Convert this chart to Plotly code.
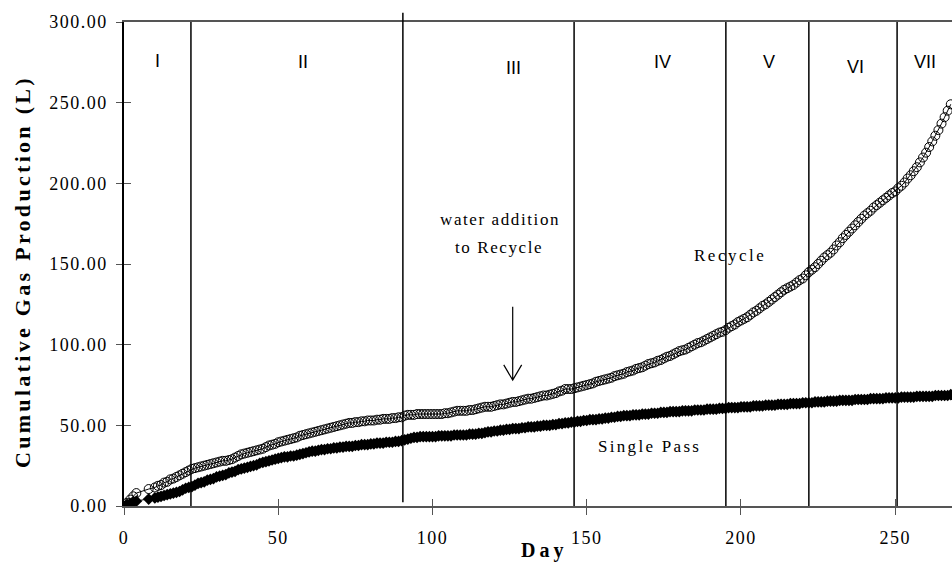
import plotly.graph_objects as go

# ---- data -------------------------------------------------------------
days = [0, 1, 2, 3, 4, 8] + list(range(10, 269))

recycle = [0, 2, 4, 6, 8, 10.5,
    11.5, 12.5, 13, 14.5, 15, 16.5, 17, 18, 19, 20,                     # 10-19
    21, 22, 23, 23.5, 24, 24.5, 25, 25.5, 26, 26.5,                     # 20-29
    27, 27.5, 28, 28, 28.5, 29, 30, 31, 32, 32.5,                       # 30-39
    33, 33.5, 34, 34.5, 35, 35.5, 36.5, 37.5, 38, 38.5,                 # 40-49
    39.5, 40, 40.5, 41, 41.5, 42, 42.5, 43.5, 44, 44.5,                 # 50-59
    45, 45.5, 46, 46.5, 47, 47.5, 48, 48.5, 49, 49.5,                   # 60-69
    50, 50.5, 51, 51.5, 51.5, 52, 52, 52.5, 52.5, 53,                   # 70-79
    53, 53, 53.5, 53.5, 54, 54, 54, 54.5, 54.5, 55,                     # 80-89
    55, 56, 56.5, 56.5, 56.5, 57, 57, 57, 57, 57,                       # 90-99
    57, 57, 57, 57, 57.5, 57.5, 58, 58.5, 59, 59,                       # 100-109
    59, 59, 59.5, 59.5, 60, 60.5, 61, 61.5, 61.5, 61.5,                 # 110-119
    62, 62.5, 63, 63, 63.5, 64, 64.5, 64.5, 65, 65.5,                   # 120-129
    66, 66.5, 66.5, 67, 67.5, 68, 68.5, 68.5, 69, 69.5,                 # 130-139
    70, 71, 71.5, 72.5, 72.5, 72.5, 73, 73.5, 74, 74.5,                 # 140-149
    75, 75.5, 76, 77, 77.5, 78, 78.5, 79, 79.5, 80.5,                   # 150-159
    81, 81.5, 82, 83, 83.5, 84, 85, 85.5, 86, 87,                       # 160-169
    88, 88.5, 89, 90, 90.5, 91.5, 92.5, 93, 94, 95,                     # 170-179
    96, 96.5, 97, 98, 99, 100, 101, 101.5, 102.5, 103.5,                # 180-189
    104.5, 105.5, 106.5, 107.5, 108, 109, 110.5, 111.5, 112.5, 114,     # 190-199
    115, 116, 117, 118.5, 120, 121, 122.5, 124, 125, 126.5,             # 200-209
    128, 129.5, 131, 132.5, 134, 135, 136, 137, 138.5, 140,             # 210-219
    141, 143, 145, 146.5, 148, 150, 152, 154, 155.5, 157,               # 220-229
    159, 161.5, 163.5, 166, 168, 170, 172, 174, 176, 178,               # 230-239
    180, 181.5, 183, 185, 186.5, 188, 189.5, 191, 192.5, 194,           # 240-249
    195, 197, 198.5, 200.5, 203, 205, 207.5, 210, 213, 216,             # 250-259
    219, 222.5, 226, 229.5, 233, 237, 241, 245, 249]                    # 260-268

single_pass = [0, 1, 1.5, 2.5, 3, 4.3,
    5, 5.5, 6, 6.5, 7, 7.5, 8, 8.5, 9, 10,                              # 10-19
    11, 11.5, 12, 13, 14, 14.5, 15, 16, 16.5, 17,                       # 20-29
    18, 18.5, 19, 19.5, 20.5, 21, 21.5, 22.5, 23, 23.5,                 # 30-39
    24, 24.5, 25, 25.5, 26.5, 27, 27.5, 28, 28.5, 29,                   # 40-49
    29.5, 30, 30.5, 30.5, 31, 31, 31.5, 32, 32.5, 33,                   # 50-59
    33.5, 34, 34, 34.5, 35, 35, 35.5, 35.5, 36, 36,                     # 60-69
    36.5, 36.5, 37, 37, 37, 37.5, 37.5, 38, 38, 38,                     # 70-79
    38.5, 38.5, 39, 39, 39, 39.5, 39.5, 39.5, 40, 40,                   # 80-89
    40.5, 41, 41.5, 42, 42.5, 42.5, 43, 43, 43, 43,                     # 90-99
    43, 43, 43.5, 43.5, 43.5, 43.5, 43.5, 44, 44, 44,                   # 100-109
    44, 44, 44.5, 44.5, 44.5, 45, 45, 45.5, 46, 46,                     # 110-119
    46.5, 46.5, 47, 47, 47.5, 47.5, 48, 48, 48, 48.5,                   # 120-129
    48.5, 49, 49, 49, 49.5, 49.5, 50, 50, 50, 50.5,                     # 130-139
    50.5, 51, 51, 51.5, 51.5, 52, 52, 52.5, 52.5, 53,                   # 140-149
    53, 53.5, 53.5, 53.5, 54, 54, 54.5, 54.5, 55, 55,                   # 150-159
    55.5, 55.5, 56, 56, 56, 56.5, 56.5, 56.5, 57, 57,                   # 160-169
    57, 57.5, 57.5, 57.5, 58, 58, 58, 58.5, 58.5, 58.5,                 # 170-179
    58.5, 59, 59, 59, 59, 59.5, 59.5, 59.5, 59.5, 60,                   # 180-189
    60, 60, 60, 60.5, 60.5, 60.5, 61, 61, 61, 61,                       # 190-199
    61.5, 61.5, 61.5, 61.5, 62, 62, 62, 62, 62.5, 62.5,                 # 200-209
    62.5, 62.5, 63, 63, 63, 63, 63.5, 63.5, 63.5, 63.5,                 # 210-219
    64, 64, 64, 64, 64.5, 64.5, 64.5, 64.5, 65, 65,                     # 220-229
    65, 65, 65.5, 65.5, 65.5, 65.5, 65.5, 66, 66, 66,                   # 230-239
    66, 66, 66.5, 66.5, 66.5, 66.5, 66.5, 67, 67, 67,                   # 240-249
    67, 67, 67.5, 67.5, 67.5, 67.5, 67.5, 68, 68, 68,                   # 250-259
    68, 68, 68, 68.5, 68.5, 68.5, 68.5, 68.5, 69]                       # 260-268

assert len(days) == len(recycle) == len(single_pass)

# operating-phase boundaries (day) and phase labels
phase_bounds = [21.7, 90.4, 145.9, 195.1, 222.0, 250.6]
phase_names = ["I", "II", "III", "IV", "V", "VI", "VII"]
phase_label_days = [10.7, 57.9, 126.1, 174.4, 209.1, 237.0, 259.7]
phase_label_y = [276, 275.5, 271.5, 275.5, 275.5, 272, 275.5]

x_ticks = [0, 50, 100, 150, 200, 250]
x_tick_labels = ["0", "50", "100", "150", "200", "250"]
y_ticks = [0, 50, 100, 150, 200, 250, 300]
y_tick_labels = ["0.00", "50.00", "100.00", "150.00", "200.00", "250.00", "300.00"]

water_day = 126.0          # water added to the recycle reactor
water_arrow = (123.5, 78)  # arrow from / to (L)

# ---- styling helpers --------------------------------------------------
SERIF = "Liberation Serif, Times New Roman, serif"
SANS = "Liberation Sans, Arial, sans-serif"


def spaced(text, px):
    return f'<span style="letter-spacing:{px}px">{text}</span>'


fig = go.Figure()

fig.add_trace(go.Scatter(
    x=days, y=single_pass, name="Single Pass", mode="lines+markers",
    line=dict(color="black", width=1),
    marker=dict(symbol="diamond", size=9, color="black"),
))
fig.add_trace(go.Scatter(
    x=days, y=recycle, name="Recycle", mode="lines+markers",
    line=dict(color="black", width=1),
    marker=dict(symbol="circle-open", size=9, color="black",
                line=dict(width=1, color="black")),
))
# empty trace so the overlaid tick-only axes are rendered
fig.add_trace(go.Scatter(x=[], y=[], xaxis="x2", yaxis="y2",
                         showlegend=False, hoverinfo="skip"))

# phase boundary lines
shapes = []
for i, d in enumerate(phase_bounds):
    y0, y1 = (0.008, 1.019) if i == 1 else (0.0, 1.0)
    shapes.append(dict(type="line", xref="x", yref="paper", x0=d, x1=d,
                       y0=y0, y1=y1, line=dict(color="black", width=1.5),
                       layer="above"))

# arrow marking the water addition
wx = water_day
top, tip = water_arrow
shapes.append(dict(
    type="path", xref="x", yref="y",
    path=(f"M {wx},{top} L {wx},{tip} "
          f"M {wx - 2.9},{tip + 9.5} L {wx},{tip} L {wx + 2.9},{tip + 9.5}"),
    line=dict(color="black", width=1.2),
))

annotations = []
for name, d, yv in zip(phase_names, phase_label_days, phase_label_y):
    annotations.append(dict(x=d, y=yv, xref="x", yref="y", text=name,
                            showarrow=False,
                            font=dict(family=SANS, size=18, color="black")))

annotations += [
    dict(x=121.9, y=177.5, xref="x", yref="y", showarrow=False,
         text=spaced("water addition", 1.6),
         font=dict(family=SERIF, size=17, color="black")),
    dict(x=121.7, y=160.0, xref="x", yref="y", showarrow=False,
         text=spaced("to Recycle", 1.6),
         font=dict(family=SERIF, size=17, color="black")),
    dict(x=196.4, y=155.0, xref="x", yref="y", showarrow=False,
         text=spaced("Recycle", 2.5),
         font=dict(family=SERIF, size=17, color="black")),
    dict(x=170.5, y=36.6, xref="x", yref="y", showarrow=False,
         text=spaced("Single Pass", 2.3),
         font=dict(family=SERIF, size=17, color="black")),
    # axis titles
    dict(x=-0.1232, y=0.4855, xref="paper", yref="paper", showarrow=False,
         textangle=-90, xanchor="center", yanchor="middle",
         text=spaced("<b>Cumulative Gas Production (L)</b>", 3.3),
         font=dict(family=SERIF, size=22, color="black")),
    dict(x=0.507, y=-0.092, xref="paper", yref="paper", showarrow=False,
         xanchor="center", yanchor="middle",
         text=spaced("<b>Day</b>", 4),
         font=dict(family=SERIF, size=20, color="black")),
]

tick_font = dict(family=SERIF, size=18, color="black")

fig.update_layout(
    width=952, height=565,
    margin=dict(l=124, r=0, t=22, b=59),
    paper_bgcolor="white", plot_bgcolor="white",
    showlegend=False,
    shapes=shapes,
    annotations=annotations,
    xaxis=dict(
        range=[0, 268.4], tickmode="array", tickvals=x_ticks,
        ticktext=[spaced(t, 1.5) for t in x_tick_labels],
        ticks="outside", ticklen=7, tickwidth=1, tickcolor="#555",
        ticklabelstandoff=7,
        showline=True, linecolor="#555", linewidth=2, mirror=True,
        showgrid=False, zeroline=False, tickfont=tick_font,
    ),
    yaxis=dict(
        range=[0, 300], tickmode="array", tickvals=y_ticks,
        ticktext=[spaced(t, 1.5) for t in y_tick_labels],
        ticks="outside", ticklen=6, tickwidth=1, tickcolor="#555",
        ticklabelstandoff=5,
        showline=True, linecolor="black", linewidth=1.5,
        showgrid=False, zeroline=False, tickfont=tick_font,
    ),
    # inner half of the cross ticks
    xaxis2=dict(overlaying="x", matches="x", range=[0, 268.4],
                tickmode="array", tickvals=x_ticks, ticks="inside",
                ticklen=7, tickwidth=1, tickcolor="#555",
                showticklabels=False, showline=False, showgrid=False,
                zeroline=False),
    yaxis2=dict(overlaying="y", matches="y", range=[0, 300],
                tickmode="array", tickvals=y_ticks, ticks="inside",
                ticklen=7, tickwidth=1, tickcolor="#555",
                showticklabels=False, showline=False, showgrid=False,
                zeroline=False),
)

fig.write_html("out.html")
